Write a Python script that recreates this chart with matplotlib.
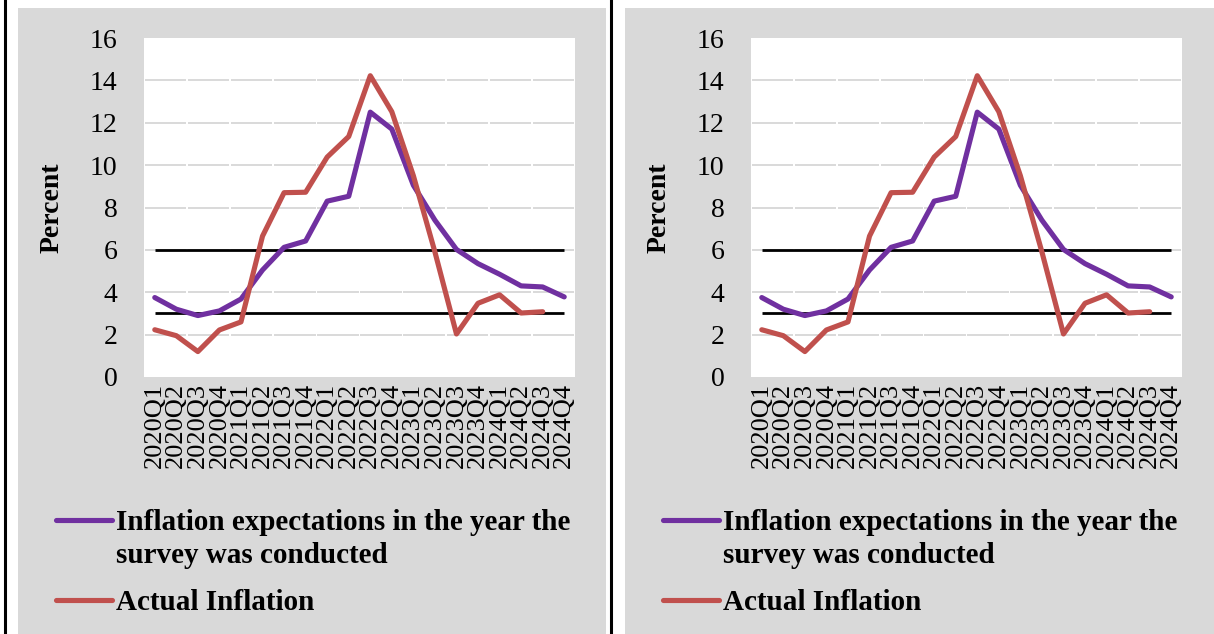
import matplotlib
matplotlib.use("Agg")
from matplotlib import pyplot as plt
from matplotlib.lines import Line2D
from matplotlib.patches import Rectangle
import numpy as np

plt.rcParams['font.family'] = ['Liberation Serif', 'DejaVu Serif']

quarters = ['2020Q1', '2020Q2', '2020Q3', '2020Q4',
            '2021Q1', '2021Q2', '2021Q3', '2021Q4',
            '2022Q1', '2022Q2', '2022Q3', '2022Q4',
            '2023Q1', '2023Q2', '2023Q3', '2023Q4',
            '2024Q1', '2024Q2', '2024Q3', '2024Q4']

expectations = [3.75, 3.2, 2.9, 3.12, 3.68, 5.05, 6.12, 6.42, 8.3, 8.53,
                12.5, 11.7, 9.05, 7.4, 6.02, 5.35, 4.85, 4.3, 4.25, 3.78]

# last quarter not published yet
actual = [2.23, 1.95, 1.2, 2.22, 2.6, 6.65, 8.7, 8.72, 10.38, 11.35,
          14.22, 12.52, 9.5, 5.9, 2.03, 3.48, 3.88, 3.02, 3.08]

target_upper = 6
target_lower = 3

y_ticks = [0, 2, 4, 6, 8, 10, 12, 14, 16]

legend_lines = ['Inflation expectations in the year the',
                'survey was conducted']
label_actual = 'Actual Inflation'

PURPLE = '#7030A0'
RED = '#C0504D'
PANEL = '#D9D9D9'
GRID = '#D9D9D9'
LW = 3.7

W, H = 1214, 634
fig = plt.figure(figsize=(W / 100, H / 100), dpi=100)


def px(x, y):
    # pixel position (top-left origin) -> figure fraction
    return x / W, 1 - y / H


def draw_panel(dx, panel_right):
    # grey background box of the panel
    fig.add_artist(Rectangle(px(18 + dx, H), (panel_right - 18 - dx) / W,
                             (H - 8) / H, transform=fig.transFigure,
                             facecolor=PANEL, edgecolor='none', zorder=0))

    left, bottom = px(144 + dx, 377)
    ax = fig.add_axes([left, bottom, 431 / W, 339 / H])
    ax.set_zorder(2)
    ax.set_facecolor('white')
    for s in ax.spines.values():
        s.set_visible(False)

    x = np.arange(len(quarters))
    n = len(quarters)

    # light grid, broken every two quarters
    for v in y_ticks[1:-1]:
        for k in range(0, n, 2):
            ax.hlines(v, k - 0.5 + 0.04, k + 1.5 - 0.04, color=GRID,
                      linewidth=1.4, zorder=1)

    ax.hlines([target_upper, target_lower], x[0], x[-1], color='black',
              linewidth=2.0, zorder=2)
    ax.plot(x, expectations, color=PURPLE, linewidth=LW, zorder=3,
            solid_joinstyle='round', solid_capstyle='round')
    ax.plot(x[:len(actual)], actual, color=RED, linewidth=LW, zorder=4,
            solid_joinstyle='round', solid_capstyle='round')

    ax.set_xlim(-0.5, n - 0.5)
    ax.set_ylim(0, 16)
    ax.set_yticks(y_ticks)
    ax.set_yticklabels([str(t) for t in y_ticks], fontsize=20)
    ax.set_xticks(x)
    ax.set_xticklabels(quarters, rotation=90, fontsize=19)
    ax.tick_params(axis='y', length=0, pad=19)
    ax.tick_params(axis='x', length=0, pad=4)

    fig.text(*px(52 + dx, 208), 'Percent', rotation=90, fontsize=20,
             fontweight='bold', ha='center', va='center', zorder=3)

    # legend, handle sits on the first line of the label
    for yy, col in ((520, PURPLE), (600, RED)):
        x0, y0 = px(56 + dx, yy)
        x1, _ = px(112 + dx, yy)
        fig.add_artist(Line2D([x0, x1], [y0, y0], color=col, linewidth=LW,
                              solid_capstyle='round', transform=fig.transFigure,
                              zorder=3))
    for base, line in zip((530, 563), legend_lines):
        fig.text(*px(116 + dx, base), line, fontsize=21, fontweight='bold',
                 ha='left', va='baseline', zorder=3)
    fig.text(*px(116 + dx, 610), label_actual, fontsize=21, fontweight='bold',
             ha='left', va='baseline', zorder=3)
    return ax


draw_panel(0, 606)
draw_panel(607, W)

# black frame rules
for xx in (4.5, 611):
    fig.add_artist(Line2D([xx / W, xx / W], [0, 1], color='black',
                          linewidth=2.2, transform=fig.transFigure, zorder=3))

fig.savefig('out.png', dpi=100, facecolor='white')
